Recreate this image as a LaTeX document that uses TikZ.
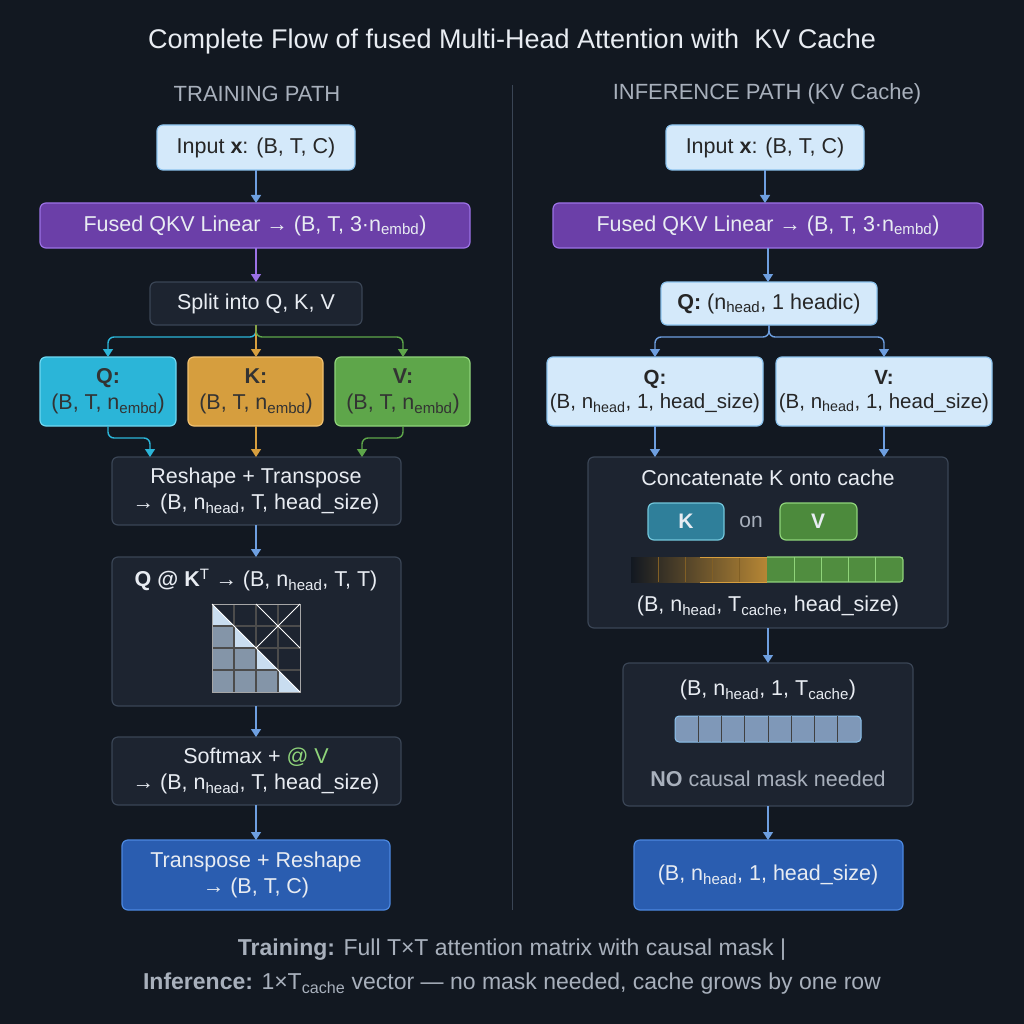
\documentclass[tikz,border=0pt]{standalone}
\usepackage{fontspec}
\setmainfont{Liberation Sans}
\usetikzlibrary{arrows.meta,shadings}
\definecolor{bg}{HTML}{121821}
\definecolor{dk}{HTML}{1D2430}
\definecolor{dkb}{HTML}{3A4555}
\definecolor{lb}{HTML}{D4E9FA}
\definecolor{lbb}{HTML}{8CC3EE}
\definecolor{pu}{HTML}{6B3FA8}
\definecolor{pub}{HTML}{9C72E6}
\definecolor{cy}{HTML}{2BB5D8}
\definecolor{cyb}{HTML}{6FD8F2}
\definecolor{og}{HTML}{D69E3E}
\definecolor{ogb}{HTML}{F0C070}
\definecolor{gr}{HTML}{5EA64A}
\definecolor{grb}{HTML}{8FD47A}
\definecolor{bl}{HTML}{2A5DB0}
\definecolor{blb}{HTML}{4C88E0}
\definecolor{arr}{HTML}{6E9FE0}
\definecolor{tx}{HTML}{E8ECF2}
\definecolor{gy}{HTML}{A8B0BC}
\definecolor{mlo}{HTML}{6E8299}
\definecolor{mdi}{HTML}{C9DDF0}
\definecolor{mbar}{HTML}{7F98B8}
\definecolor{kbox}{HTML}{2F7F9A}
\definecolor{vbox}{HTML}{4C8A3C}
\newcommand{\fs}[1]{\fontsize{#1pt}{\dimexpr #1pt*6/5\relax}\selectfont}
\tikzset{
 box/.style={rounded corners=6pt,line width=1.2pt},
 dark/.style={box,fill=dk,draw=dkb},
 light/.style={box,fill=lb,draw=lbb},
 lab/.style={font=\fs{21.5},align=center,text=tx},
 dlab/.style={font=\fs{21.5},align=center,text=black!85},
 ar/.style={draw=arr,line width=1.4pt,-{Triangle[width=10pt,length=8pt]},rounded corners=6pt},
}
\begin{document}
\begin{tikzpicture}[x=1pt,y=-1pt]
\fill[bg] (0,0) rectangle (1024,1024);
\useasboundingbox (0,0) rectangle (1024,1024);
\node[text=tx,font=\fs{27}] (title) at (512,42) {Complete Flow of fused Multi-Head Attention with\ \ KV Cache};
\node[text=gy,font=\fs{22}] (h1) at (257,94) {TRAINING PATH};
\node[text=gy,font=\fs{22}] (h2) at (767,94) {INFERENCE PATH (KV Cache)};
\draw[dkb,line width=1pt] (512,85) -- (512,910);

% ---------- LEFT ----------
\draw[light] (157,125) rectangle (355,170); \node[dlab] (lin) at (256,147.5) {Input \textbf{x}: (B, T, C)};
\coordinate (linb) at (256,170);
\draw[box,fill=pu,draw=pub] (40,203) rectangle (470,248); \node[lab] (lf) at (255,225.5) {Fused QKV Linear → (B, T, 3·n\textsubscript{embd})};
\coordinate (lft) at (256,203); \coordinate (lfb) at (256,248);
\draw[dark] (150,282) rectangle (362,325); \node[lab] (ls) at (256,303.5) {Split into Q, K, V};
\coordinate (lst) at (256,282); \coordinate (lsb) at (256,325);
\draw[box,fill=cy,draw=cyb] (40,357) rectangle (176,426); \node[dlab,text=black!80] (lq) at (108,391.5) {\textbf{Q:}\\(B, T, n\textsubscript{embd})};
\draw[box,fill=og,draw=ogb] (188,357) rectangle (323,426); \node[dlab,text=black!80] (lk) at (256,391.5) {\textbf{K:}\\(B, T, n\textsubscript{embd})};
\draw[box,fill=gr,draw=grb] (335,357) rectangle (470,426); \node[dlab,text=black!80] (lv) at (403,391.5) {\textbf{V:}\\(B, T, n\textsubscript{embd})};
\coordinate (lqt) at (108,357); \coordinate (lkt) at (256,357); \coordinate (lvt) at (403,357);
\coordinate (lqb) at (108,426); \coordinate (lkb) at (256,426); \coordinate (lvb) at (403,426);
\draw[dark] (112,457) rectangle (401,525); \node[lab] (lr) at (256,491) {Reshape + Transpose\\→ (B, n\textsubscript{head}, T, head\_size)};
\coordinate (lrt1) at (150,457); \coordinate (lrt2) at (256,457); \coordinate (lrt3) at (362,457); \coordinate (lrb) at (256,525);
\draw[dark] (112,557) rectangle (401,706); \node[lab] (lm) at (256,580) {\textbf{Q @ K}\textsuperscript{T} → (B, n\textsubscript{head}, T, T)};
\coordinate (lmt) at (256,557); \coordinate (lmb) at (256,706);
% matrix
\begin{scope}[shift={(212,604)}]
 \fill[dk] (0,0) rectangle (88,88);
 \foreach \i in {1,...,3}{\foreach \j in {0,...,2}{
  \pgfmathtruncatemacro\s{\i>\j}
  \ifnum\s=1 \fill[mlo!85!white] (\j*22,\i*22) rectangle ++(22,22);\fi
 }}
 \foreach \k in {0,...,3}{\fill[mdi] (\k*22,\k*22) -- (\k*22,\k*22+22) -- (\k*22+22,\k*22+22) -- cycle;}
 \foreach \k in {1,2,3}{\draw[black!70,line width=1.5pt] (\k*22,0) -- (\k*22,88) (0,\k*22) -- (88,\k*22);}
 \draw[gray!70!white,line width=1pt] (0,0) rectangle (88,88);
 \draw[white,line width=1pt] (44,44) -- (88,0) (44,0) -- (88,44) (0,0) -- (88,88);
\end{scope}
\draw[dark] (112,737) rectangle (401,805); \node[lab] (lsm) at (256,771) {Softmax + \textcolor{grb}{@ V}\\→ (B, n\textsubscript{head}, T, head\_size)};
\coordinate (lsmt) at (256,737); \coordinate (lsmb) at (256,805);
\draw[box,fill=bl,draw=blb] (122,840) rectangle (390,910); \node[lab] (lo) at (256,875) {Transpose + Reshape\\→ (B, T, C)};
\coordinate (lot) at (256,840);

\draw[ar] (linb) -- (lft);
\draw[ar,draw=pub] (lfb) -- (lst);
\draw[ar,draw=cy] (lsb) -- (256,337) -- (108,337) -- (lqt);
\draw[ar,draw=og] (lsb) -- (lkt);
\draw[ar,draw=gr] (lsb) -- (256,337) -- (403,337) -- (lvt);
\draw[ar,draw=cy] (lqb) -- (108,438) -- (150,438) -- (lrt1);
\draw[ar,draw=og] (lkb) -- (lrt2);
\draw[ar,draw=gr] (lvb) -- (403,438) -- (362,438) -- (lrt3);
\draw[ar] (lrb) -- (lmt);
\draw[ar] (lmb) -- (lsmt);
\draw[ar] (lsmb) -- (lot);

% ---------- RIGHT ----------
\draw[light] (666,125) rectangle (864,170); \node[dlab] (rin) at (765,147.5) {Input \textbf{x}: (B, T, C)};
\coordinate (rinb) at (765,170);
\draw[box,fill=pu,draw=pub] (553,203) rectangle (983,248); \node[lab] (rf) at (768,225.5) {Fused QKV Linear → (B, T, 3·n\textsubscript{embd})};
\coordinate (rft) at (765,203); \coordinate (rfb) at (768,248);
\draw[light] (661,282) rectangle (877,325); \node[dlab] (rq0) at (769,303.5) {\textbf{Q:} (n\textsubscript{head}, 1 headic)};
\coordinate (rq0t) at (768,282); \coordinate (rq0b) at (769,325);
\draw[light] (547,357) rectangle (763,426); \node[dlab,font=\fs{20.5}] (rq) at (655,391.5) {\textbf{Q:}\\(B, n\textsubscript{head}, 1, head\_size)};
\draw[light] (776,357) rectangle (992,426); \node[dlab,font=\fs{20.5}] (rv) at (884,391.5) {\textbf{V:}\\(B, n\textsubscript{head}, 1, head\_size)};
\coordinate (rqt) at (655,357); \coordinate (rvt) at (884,357);
\coordinate (rqb) at (655,426); \coordinate (rvb) at (884,426);
\draw[dark] (588,457) rectangle (948,628); \node[lab] (rc) at (768,478) {Concatenate K onto cache};
\coordinate (rct1) at (655,457); \coordinate (rct2) at (884,457); \coordinate (rcb) at (768,628);
\draw[box,fill=kbox,draw=cyb!80!gray] (648,503) rectangle (724,540); \node[lab,font=\bfseries\fs{21}] (kk) at (686,521.5) {K};
\node[text=gy,font=\fs{21}] (on) at (751,521.5) {on};
\draw[box,fill=vbox,draw=grb] (780,503) rectangle (857,540); \node[lab,font=\bfseries\fs{21}] (vv) at (818,521.5) {V};
\shade[left color=bg,right color=og!85!black] (631,557) rectangle (767,582);
\fill[gr!85!black] (767,557) rectangle (903,582);
\foreach \k in {1,...,4}{\draw[og!60!black,line width=1pt] (631+\k*27.2,557) -- ++(0,25);}
\foreach \k in {1,...,4}{\draw[grb,line width=1pt] (767+\k*27.2,557) -- ++(0,25);}
\draw[grb,line width=1.2pt,rounded corners=3pt] (767,557) -- (903,557) -- (903,582) -- (767,582);
\draw[og,line width=1pt] (700,557) -- (767,557) (700,582) -- (767,582);
\node[lab] (rcs) at (768,606) {(B, n\textsubscript{head}, T\textsubscript{cache}, head\_size)};
\draw[dark] (623,663) rectangle (913,806); \node[lab] (ra) at (768,690) {(B, n\textsubscript{head}, 1, T\textsubscript{cache})};
\coordinate (rat) at (768,663); \coordinate (rab) at (768,806);
\draw[rounded corners=4pt,fill=mbar,draw=lbb,line width=1pt] (675,716) rectangle (861,742);
\foreach \k in {1,...,7}{\draw[black!75,line width=1pt] (675+\k*23.25,716) -- ++(0,26);}
\node[text=gy,font=\fs{21.5}] (rno) at (768,779) {\textbf{NO} causal mask needed};
\draw[box,fill=bl,draw=blb] (634,840) rectangle (903,910); \node[lab] (ro) at (768,875) {(B, n\textsubscript{head}, 1, head\_size)};
\coordinate (rot) at (768,840);

\draw[ar] (rinb) -- (rft);
\draw[ar] (rfb) -- (rq0t);
\draw[ar] (rq0b) -- (769,337) -- (655,337) -- (rqt);
\draw[ar] (rq0b) -- (769,337) -- (884,337) -- (rvt);
\draw[ar] (rqb) -- (rct1);
\draw[ar] (rvb) -- (rct2);
\draw[ar] (rcb) -- (rat);
\draw[ar] (rab) -- (rot);

% bottom
\node[text=gy,font=\fs{23}] (b1) at (512,950) {\textbf{Training:} Full T×T attention matrix with causal mask |};
\node[text=gy,font=\fs{23}] (b2) at (512,984) {\textbf{Inference:} 1×T\textsubscript{cache} vector — no mask needed, cache grows by one row};
\end{tikzpicture}
\end{document}
